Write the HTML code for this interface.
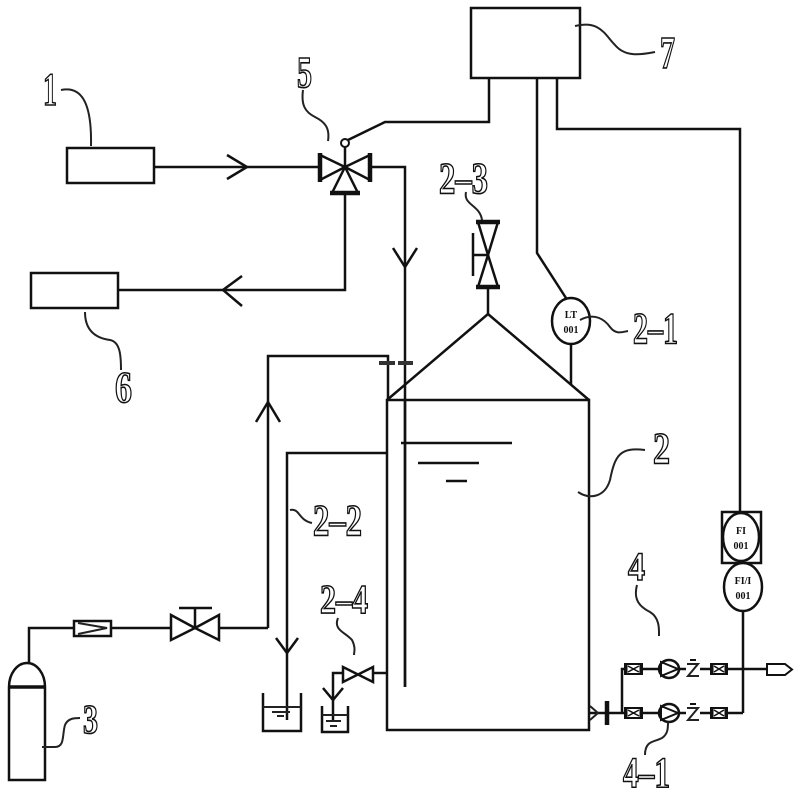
<!DOCTYPE html>
<html><head><meta charset="utf-8"><style>
html,body{margin:0;padding:0;background:#fff;}
svg{display:block;}
.l{fill:none;stroke:#111;stroke-width:2.5;stroke-linejoin:miter;}
.t{fill:none;stroke:#222;stroke-width:2;}
.w{fill:#fff;stroke:#111;stroke-width:2.5;}
.lab{font-family:"Liberation Serif",serif;font-weight:bold;fill:#fff;stroke:#111;stroke-width:1.6;}
.s{font-family:"Liberation Serif",serif;font-weight:bold;font-size:10px;fill:#111;}
</style></head><body>
<svg width="800" height="800" viewBox="0 0 800 800" xmlns="http://www.w3.org/2000/svg">
<rect width="800" height="800" fill="#fff"/>

<rect x="67" y="148" width="87" height="35" class="l"/>
<path d="M154,167 L320,167" class="l"/>
<path d="M227,155 L247,167 L227,179" class="l"/>

<path d="M370,167 L405,167 L405,687" class="l"/>
<path d="M393,248 L405,267 L417,248" class="l"/>
<path d="M345,193 L345,290 L118,290" class="l"/>
<path d="M242,276 L223,290 L242,306" class="l"/>
<rect x="31" y="273" width="87" height="35" class="l"/>

<polygon points="320,155 320,180 345,167" class="w"/>
<polygon points="370,155 370,180 345,167" class="w"/>
<polygon points="345,167 332,193 358,193" class="w"/>
<path d="M320,153 L320,182 M370,153 L370,182 M330,193 L360,193" stroke="#111" stroke-width="4.5" fill="none"/>
<path d="M345,167 L345,147" class="l"/>
<circle cx="345" cy="143" r="4" fill="#fff" stroke="#111" stroke-width="2"/>
<path d="M348,140 L385,122 L489,122 L489,78" class="l"/>

<rect x="471" y="8" width="109" height="70" class="l"/>
<path d="M537,78 L537,253 L566,298" class="l"/>
<path d="M557,78 L557,129 L740,129 L740,512" class="l"/>

<ellipse cx="571" cy="321" rx="19" ry="23" class="w"/>
<text x="571" y="318" text-anchor="middle" class="s">LT</text>
<text x="571" y="333" text-anchor="middle" class="s">001</text>
<path d="M571,344 L571,385" class="l"/>

<rect x="387" y="400" width="202" height="330" class="l"/>
<path d="M387,400 L488,314 L589,400" class="l"/>
<path d="M405,400 L405,687" class="l"/>
<path d="M401,443 L512,443 M418,463 L479,463 M446,481 L467,481" class="l"/>

<path d="M488,314 L488,287" class="l"/>
<polygon points="478,222 498,222 488,255" class="w"/>
<polygon points="478,287 498,287 488,255" class="w"/>
<path d="M476,222 L500,222 M476,287 L500,287" stroke="#111" stroke-width="4.5" fill="none"/>
<path d="M473,233 L473,276 M473,255 L488,255" class="l"/>

<path d="M268,628 L268,356 L388,356 L388,400" class="l"/>
<path d="M256,422 L268,402 L280,422" class="l"/>
<path d="M379,363 L395,363 M398,363 L413,363" stroke="#333" stroke-width="4" fill="none"/>

<path d="M387,453 L287,453 L287,720" class="l"/>
<path d="M276,638 L287,653 L298,638" class="l"/>
<path d="M263,693 L263,731 L301,731 L301,693" class="l"/>
<path d="M263,707 L301,707" class="t"/>
<path d="M272,712 L290,712 M277,716 L284,716" class="t"/>

<path d="M387,673 L373,673" class="l"/>
<polygon points="343,667 343,682 358,674.5" class="w"/>
<polygon points="373,667 373,682 358,674.5" class="w"/>
<path d="M343,673 L333,673 L333,722" class="l"/>
<path d="M323,688 L333,700 L343,688" class="l"/>
<path d="M322,706 L322,732 L348,732 L348,706" class="l"/>
<path d="M322,715 L348,715" class="t"/>
<path d="M326,721 L341,721 M330,726 L337,726" class="t"/>

<path d="M9,780 L9,687 A18,24 0 0 1 45,687 L45,780 Z" class="l"/>
<path d="M9,687 L45,687" stroke="#111" stroke-width="3.5"/>
<path d="M29,663 L29,628 L171,628 M219,628 L268,628" class="l"/>
<rect x="74" y="621" width="37" height="15" class="w"/>
<path d="M78,623 L107,628 L78,634" class="t"/>
<polygon points="171,615 171,640 195,628" class="w"/>
<polygon points="219,615 219,640 195,628" class="w"/>
<path d="M195,628 L195,608 M179,608 L212,608" class="l"/>

<rect x="722" y="512" width="39" height="51" class="l"/>
<ellipse cx="741" cy="537" rx="18" ry="24" class="w"/>
<text x="741" y="534" text-anchor="middle" class="s">FI</text>
<text x="741" y="549" text-anchor="middle" class="s">001</text>
<ellipse cx="743" cy="587" rx="19" ry="24" class="w"/>
<text x="743" y="584" text-anchor="middle" class="s">FI/I</text>
<text x="743" y="599" text-anchor="middle" class="s">001</text>
<path d="M743,611 L743,713" class="l"/>

<path d="M589,713 L743,713" class="l"/>
<path d="M622,713 L622,669 L767,669" class="l"/>
<path d="M590,706 L598,713 L590,720" class="t"/>
<path d="M607,701 L607,725" stroke="#111" stroke-width="4.5"/>
<polygon points="767,664 785,664 792,669.5 785,675 767,675" class="w" style="stroke-width:2"/>

<g>
<rect x="625" y="664" width="17" height="10" fill="#fff" stroke="#111" stroke-width="2"/>
<path d="M626,663 L626,675 M641,663 L641,675" stroke="#111" stroke-width="3"/>
<path d="M628,666 L639,672 M628,672 L639,666" stroke="#111" stroke-width="1.5"/>
<ellipse cx="669" cy="669" rx="10" ry="9" class="w"/>
<path d="M661,662 L678,669 L661,676 Z" fill="none" stroke="#111" stroke-width="2"/>
<rect x="686" y="662" width="14" height="15" fill="#fff"/>
<path d="M687,664 L698,664 L688,676 L699,676" class="t"/>
<path d="M690,660 L696,660" stroke="#111" stroke-width="2"/>
<rect x="711" y="664" width="16" height="10" fill="#fff" stroke="#111" stroke-width="2"/>
<path d="M712,663 L712,675 M726,663 L726,675" stroke="#111" stroke-width="3"/>
<path d="M714,666 L724,672 M714,672 L724,666" stroke="#111" stroke-width="1.5"/>
</g>
<g transform="translate(0,44)">
<rect x="625" y="664" width="17" height="10" fill="#fff" stroke="#111" stroke-width="2"/>
<path d="M626,663 L626,675 M641,663 L641,675" stroke="#111" stroke-width="3"/>
<path d="M628,666 L639,672 M628,672 L639,666" stroke="#111" stroke-width="1.5"/>
<ellipse cx="669" cy="669" rx="10" ry="9" class="w"/>
<path d="M661,662 L678,669 L661,676 Z" fill="none" stroke="#111" stroke-width="2"/>
<rect x="686" y="662" width="14" height="15" fill="#fff"/>
<path d="M687,664 L698,664 L688,676 L699,676" class="t"/>
<path d="M690,660 L696,660" stroke="#111" stroke-width="2"/>
<rect x="711" y="664" width="16" height="10" fill="#fff" stroke="#111" stroke-width="2"/>
<path d="M712,663 L712,675 M726,663 L726,675" stroke="#111" stroke-width="3"/>
<path d="M714,666 L724,672 M714,672 L724,666" stroke="#111" stroke-width="1.5"/>
</g>

<g class="t">
<path d="M61,90 C80,86 92,100 91,146"/>
<path d="M303,90 C301,105 305,112 315,117 C325,122 330,128 328,141"/>
<path d="M85,312 C85,330 95,338 110,340 C120,342 121,355 121,370"/>
<path d="M575,26 C600,20 605,35 615,45 C625,57 640,55 655,52"/>
<path d="M466,192 C463,205 480,205 482,220"/>
<path d="M580,320 C595,312 605,320 610,327 C616,335 622,332 628,331"/>
<path d="M578,492 C590,500 605,497 610,480 C615,455 620,447 645,450"/>
<path d="M290,510 C300,508 298,520 312,523"/>
<path d="M338,618 C333,630 345,632 352,640 C356,648 354,652 354,655"/>
<path d="M42,747 L55,747 C65,747 62,735 65,725 C68,718 75,718 80,718"/>
<path d="M637,585 C633,600 640,607 650,612 C660,618 659,630 659,636"/>
<path d="M645,755 C645,740 655,742 662,738 C668,734 668,728 668,722"/>
</g>

<text x="43" y="105" font-size="47" textLength="14" lengthAdjust="spacingAndGlyphs" class="lab">1</text>
<text x="297" y="87" font-size="44" textLength="15" lengthAdjust="spacingAndGlyphs" class="lab">5</text>
<text x="115" y="402" font-size="44" textLength="17" lengthAdjust="spacingAndGlyphs" class="lab">6</text>
<text x="660" y="68" font-size="45" textLength="15" lengthAdjust="spacingAndGlyphs" class="lab">7</text>
<text x="439" y="193" font-size="44" textLength="49" lengthAdjust="spacingAndGlyphs" class="lab">2–3</text>
<text x="633" y="343" font-size="44" textLength="45" lengthAdjust="spacingAndGlyphs" class="lab">2–1</text>
<text x="653" y="463" font-size="44" textLength="17" lengthAdjust="spacingAndGlyphs" class="lab">2</text>
<text x="313" y="535" font-size="44" textLength="49" lengthAdjust="spacingAndGlyphs" class="lab">2–2</text>
<text x="320" y="613" font-size="41" textLength="48" lengthAdjust="spacingAndGlyphs" class="lab">2–4</text>
<text x="83" y="733" font-size="41" textLength="15" lengthAdjust="spacingAndGlyphs" class="lab">3</text>
<text x="628" y="580" font-size="40" textLength="17" lengthAdjust="spacingAndGlyphs" class="lab">4</text>
<text x="623" y="787" font-size="43" textLength="47" lengthAdjust="spacingAndGlyphs" class="lab">4–1</text>
</svg>
</body></html>
